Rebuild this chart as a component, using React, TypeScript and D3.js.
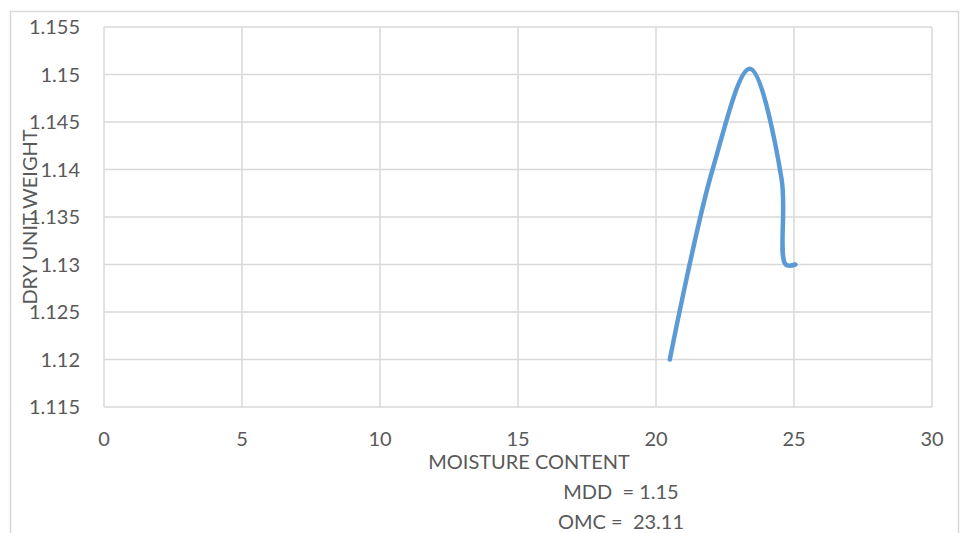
import React from "react";
import * as d3 from "d3";

// Compaction test: dry unit weight vs moisture content
const moisture = [20.5, 22.05, 23.4, 24.55, 24.7, 25.05];
const dryUnitWeight = [1.12, 1.14, 1.1506, 1.139, 1.13, 1.13];
const xTicks = [0, 5, 10, 15, 20, 25, 30];
const yTicks = [1.115, 1.12, 1.125, 1.13, 1.135, 1.14, 1.145, 1.15, 1.155];
const notes = ["MDD  = 1.15", "OMC =  23.11"];

const W = 962;
const H = 533;
const plot = { left: 104, right: 932, top: 27, bottom: 407 };
const FONT = "Lato, 'Open Sans', sans-serif";
const TEXT = "#595959";
const GRID = "#d9d9d9";

export default function App() {
  const x = d3.scaleLinear().domain([0, 30]).range([plot.left, plot.right]);
  const y = d3.scaleLinear().domain([1.115, 1.155]).range([plot.bottom, plot.top]);

  const pts: [number, number][] = moisture.map((m, i) => [m, dryUnitWeight[i]]);
  const line = d3
    .line<[number, number]>()
    .x((d) => x(d[0]))
    .y((d) => y(d[1]))
    .curve(d3.curveCatmullRom.alpha(0.5));

  const fmtY = (v: number) => String(+v.toFixed(3));

  return (
    <svg
      width={W}
      height={H}
      style={{ position: "absolute", left: 0, top: 0, background: "#fff" }}
      fontFamily={FONT}
    >
      {/* chart frame */}
      <rect x={10.5} y={11.5} width={948} height={540} fill="#fff" stroke={GRID} strokeWidth={1.5} />

      {/* horizontal gridlines */}
      {yTicks.map((t) => (
        <line key={"gy" + t} x1={plot.left} x2={plot.right} y1={y(t)} y2={y(t)} stroke={GRID} strokeWidth={1.5} />
      ))}
      {/* vertical gridlines */}
      {xTicks.map((t) => (
        <line key={"gx" + t} x1={x(t)} x2={x(t)} y1={plot.top} y2={plot.bottom} stroke={GRID} strokeWidth={1.5} />
      ))}

      {/* y tick labels */}
      {yTicks.map((t) => (
        <text key={"ty" + t} x={80} y={y(t) + 7} textAnchor="end" fontSize={20} fill={TEXT}>
          {fmtY(t)}
        </text>
      ))}
      {/* x tick labels */}
      {xTicks.map((t) => (
        <text key={"tx" + t} x={x(t)} y={446} textAnchor="middle" fontSize={20} fill={TEXT}>
          {t}
        </text>
      ))}

      {/* data curve */}
      <path d={line(pts) || ""} fill="none" stroke="#5b9bd5" strokeWidth={4.5} strokeLinecap="round" strokeLinejoin="round" />

      {/* axis titles */}
      <text x={529} y={469} textAnchor="middle" fontSize={20} fill={TEXT}>
        MOISTURE CONTENT
      </text>
      <text
        transform={`translate(37, ${(plot.top + plot.bottom) / 2}) rotate(-90)`}
        textAnchor="middle"
        fontSize={20}
        fill={TEXT}
      >
        DRY UNIT WEIGHT
      </text>

      {/* result notes */}
      <text x={621} y={499} textAnchor="middle" fontSize={20} fill={TEXT} xmlSpace="preserve">
        {notes[0]}
      </text>
      <text x={621} y={529} textAnchor="middle" fontSize={20} fill={TEXT} xmlSpace="preserve">
        {notes[1]}
      </text>
    </svg>
  );
}
